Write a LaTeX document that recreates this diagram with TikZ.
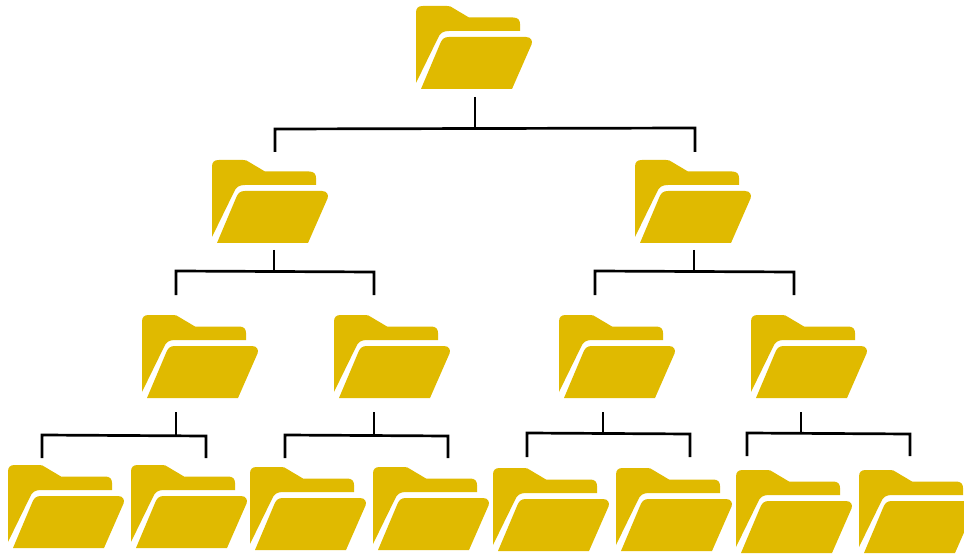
\documentclass[tikz,border=0pt]{standalone}
\definecolor{folderfill}{HTML}{E0BA00}
\tikzset{
  x=1pt,y=-1pt,
  foldershape/.style={fill=folderfill,draw=none},
  folderbox/.style={inner sep=0pt,minimum width=116pt,minimum height=83pt,anchor=north west,draw=none},
  link/.style={draw=black,line width=2.7pt,line cap=butt,line join=miter},
  pics/folder/.style={code={
    % back panel with tab
    \path[foldershape]
      (0,77) -- (0,7) .. controls (0,2) and (2,0) .. (7,0) -- (31,0)
      .. controls (34,0) and (35,0.5) .. (37,2) -- (53,11.5) -- (97,11.5)
      .. controls (102,11.5) and (104,14) .. (104,18) -- (104,25) -- (33,25)
      .. controls (27,25) and (24,27) .. (22,32) -- cycle;
    % front panel
    \path[foldershape]
      (5,83) -- (24,38) .. controls (26,33) and (28,31) .. (33,31) -- (110,31)
      .. controls (115,31) and (117,35) .. (115.5,38.5) -- (96,83) -- cycle;
  }}
}
\begin{document}
\begin{tikzpicture}
\useasboundingbox (0,0) rectangle (964,556);
\fill[white] (0,0) rectangle (964,556);
\clip (0,0) rectangle (964,556);
\foreach \n/\px/\py in {
  root/416/6,
  a/212/160, b/635/160,
  aa/142/315, ab/334/315, ba/559/315, bb/751/315,
  aaa/8/465, aab/131/465, aba/250/467, abb/373/467,
  baa/493/468, bab/616/468, bba/736/470, bbb/859/470}{
  \pic at (\px,\py) {folder};
  \node[folderbox] (\n) at (\px,\py) {};
}
% junctions and free ends
\foreach \cn/\px/\py in {
  rs/475/97, rj/475/128.5, rl/275/129, rr/695/128, rld/275/152, rrd/695/152,
  as/274/250, aj/274/271.5, al/176/271, ar/374/272, ald/176/295, ard/374/295,
  bs/694/250, bj/694/271.5, bl/595/271, br/794/272, bld/595/295, brd/794/295,
  cs/176/412, cj/176/435.5, cl/42/435, cr/206/436, cld/42/458, crd/206/458,
  ds/374/412, dj/374/435.5, dl/285/435, dr/448/436, dld/285/458, drd/448/458,
  es/603/412, ej/603/433.5, el/527/433, er/690/434, eld/527/457, erd/690/457,
  fs/801/412, fj/801/433.5, fl/747/433, fr/910/434, fld/747/456, frd/910/456}{
  \coordinate (\cn) at (\px,\py);
}
\foreach \k in {r,a,b,c,d,e,f}{
  \draw[link] (\k s) -- (\k j);
  \draw[link] (\k ld) -- (\k l) -- (\k r) -- (\k rd);
}
\end{tikzpicture}
\end{document}
